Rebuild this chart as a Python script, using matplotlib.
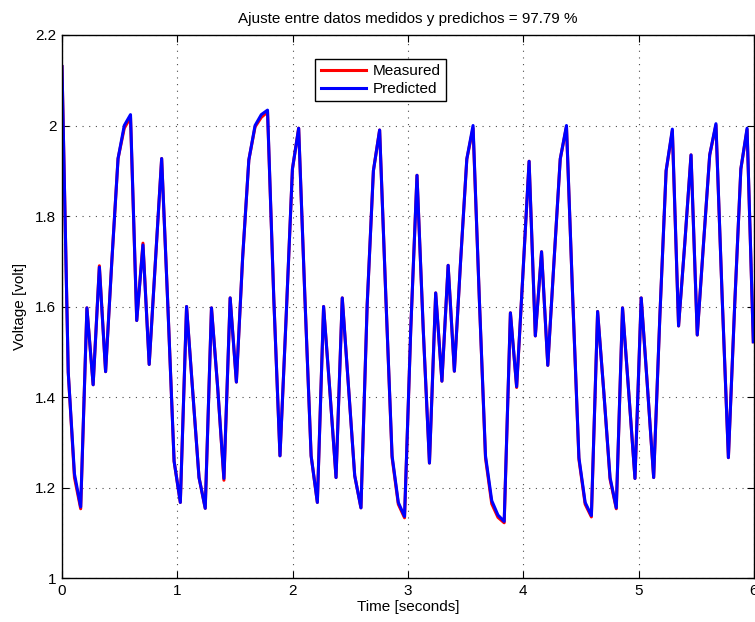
import numpy as np
import matplotlib
matplotlib.use("Agg")
import matplotlib.pyplot as plt

plt.rcParams["font.family"] = ["Liberation Sans", "DejaVu Sans"]

# sample period of the recorded signal [s]
Ts = 0.054

# measured output voltage [volt]
measured = [
    2.13, 1.455, 1.222, 1.153, 1.597, 1.427, 1.690, 1.456, 1.700, 1.927,
    1.994, 2.018, 1.569, 1.740, 1.472, 1.700, 1.927, 1.600, 1.258, 1.167,
    1.600, 1.410, 1.222, 1.154, 1.597, 1.420, 1.216, 1.619, 1.433, 1.707,
    1.924, 1.997, 2.018, 2.030, 1.620, 1.270, 1.580, 1.904, 1.994, 1.620,
    1.270, 1.167, 1.600, 1.415, 1.222, 1.619, 1.423, 1.226, 1.155, 1.604,
    1.900, 1.990, 1.620, 1.266, 1.163, 1.133, 1.550, 1.890, 1.550, 1.254,
    1.630, 1.435, 1.691, 1.457, 1.700, 1.926, 1.994, 1.620, 1.265, 1.164,
    1.134, 1.122, 1.586, 1.421, 1.670, 1.921, 1.535, 1.721, 1.470, 1.700,
    1.926, 1.997, 1.620, 1.262, 1.163, 1.135, 1.589, 1.410, 1.218, 1.153,
    1.597, 1.410, 1.220, 1.619, 1.423, 1.222, 1.580, 1.900, 1.988, 1.557,
    1.740, 1.935, 1.537, 1.738, 1.935, 2.001, 1.620, 1.266, 1.600, 1.904,
    1.991, 1.522,
]

# model output for the same input
predicted = [
    2.13, 1.455, 1.230, 1.157, 1.597, 1.427, 1.687, 1.456, 1.700, 1.927,
    2.000, 2.024, 1.569, 1.736, 1.472, 1.700, 1.927, 1.600, 1.258, 1.167,
    1.600, 1.410, 1.222, 1.154, 1.597, 1.420, 1.220, 1.619, 1.433, 1.707,
    1.924, 2.000, 2.024, 2.034, 1.620, 1.270, 1.580, 1.904, 1.994, 1.620,
    1.270, 1.167, 1.600, 1.415, 1.222, 1.619, 1.423, 1.226, 1.155, 1.604,
    1.900, 1.990, 1.620, 1.270, 1.167, 1.136, 1.550, 1.890, 1.550, 1.254,
    1.630, 1.435, 1.691, 1.457, 1.700, 1.926, 2.000, 1.620, 1.270, 1.171,
    1.139, 1.125, 1.586, 1.423, 1.670, 1.921, 1.535, 1.721, 1.470, 1.700,
    1.926, 2.000, 1.620, 1.266, 1.167, 1.138, 1.589, 1.410, 1.222, 1.155,
    1.597, 1.410, 1.220, 1.619, 1.423, 1.222, 1.580, 1.900, 1.992, 1.557,
    1.740, 1.935, 1.537, 1.738, 1.935, 2.004, 1.620, 1.266, 1.600, 1.904,
    1.994, 1.522,
]

fit_pct = 97.79

t = np.arange(len(measured)) * Ts

fig = plt.figure(figsize=(7.55, 6.22), dpi=100)
ax = fig.add_axes([62 / 755, 44 / 622, 692 / 755, 543 / 622])

ax.plot(t, measured, color="red", lw=2.2, label="Measured")
ax.plot(t, predicted, color="blue", lw=2.2, label="Predicted")

ax.set_xlim(0, 6)
ax.set_ylim(1, 2.2)
ax.set_xticks(np.arange(0, 7, 1))
ax.set_yticks([1, 1.2, 1.4, 1.6, 1.8, 2, 2.2])
ax.set_yticklabels(["1", "1.2", "1.4", "1.6", "1.8", "2", "2.2"])

ax.grid(True, linestyle=(0, (1, 5)), color="black", lw=0.8, alpha=0.7)
ax.tick_params(direction="in", top=True, right=True, length=5,
               labelsize=11, pad=4, width=0.8)
for s in ax.spines.values():
    s.set_linewidth(1.0)

ax.set_xlabel("Time [seconds]", fontsize=11, labelpad=2)
ax.set_ylabel("Voltage [volt]", fontsize=11, labelpad=6)
ax.set_title(f"Ajuste entre datos medidos y predichos = {fit_pct} %",
             fontsize=11, pad=9)

leg = ax.legend(loc="upper left", bbox_to_anchor=(0.366, 0.956),
                fontsize=11, fancybox=False, framealpha=1,
                edgecolor="black", handlelength=3.0, borderpad=0.35,
                labelspacing=0.25, handletextpad=0.4, borderaxespad=0)
leg.get_frame().set_linewidth(1.0)

fig.savefig("out.png", dpi=100)
